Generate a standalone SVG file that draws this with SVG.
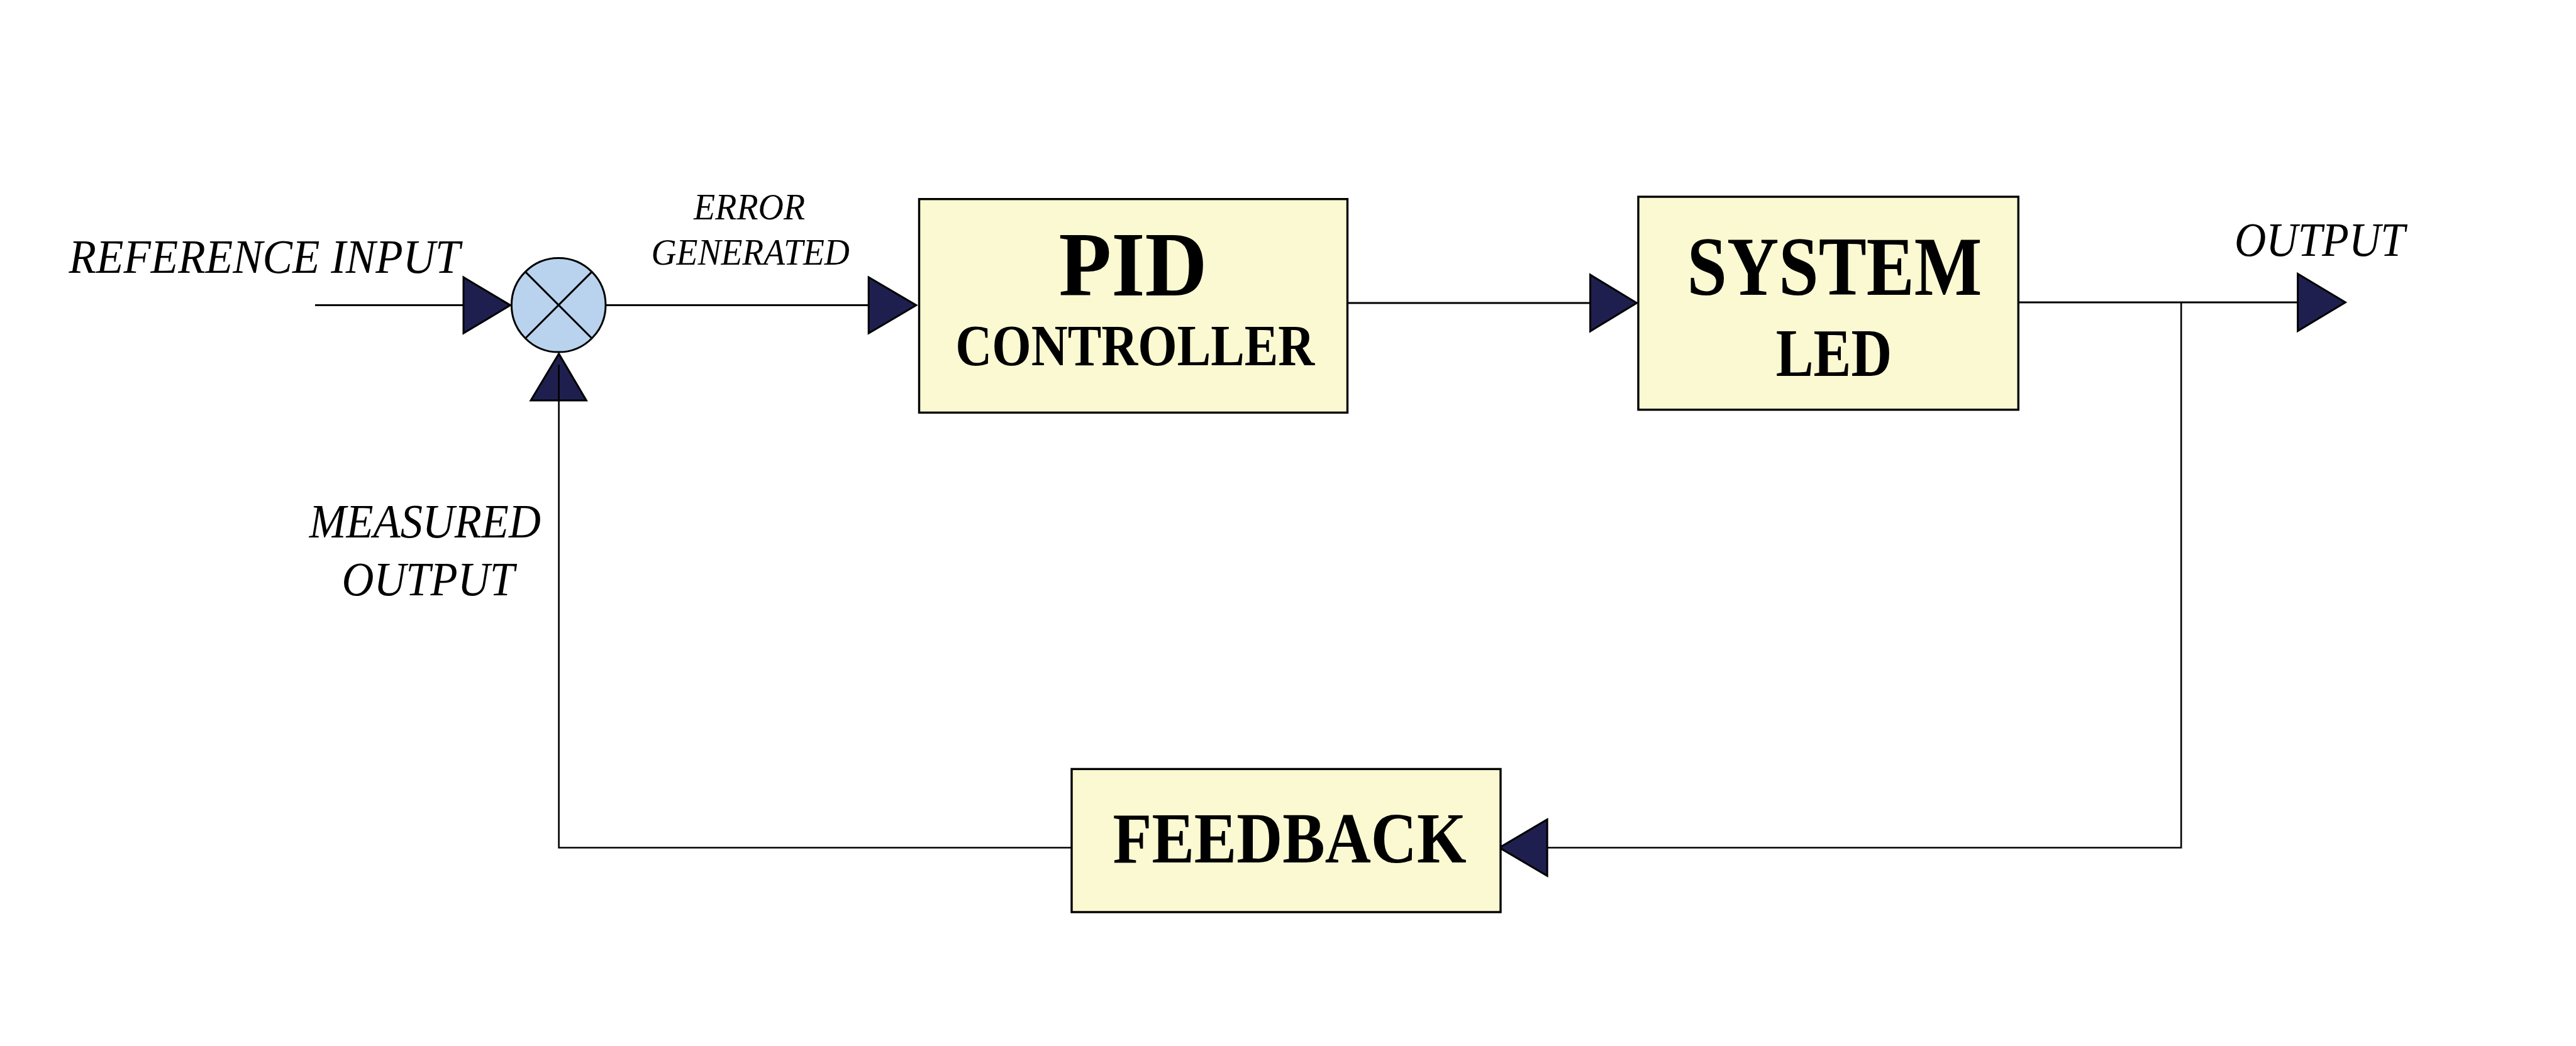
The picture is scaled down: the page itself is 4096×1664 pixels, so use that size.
<svg xmlns="http://www.w3.org/2000/svg" width="4096" height="1664" viewBox="0 0 4096 1664">
<style>
.box{fill:#FAF9D2;stroke:#000;stroke-width:3.4}
.line{fill:none;stroke:#000;stroke-width:3}
.thin{fill:none;stroke:#000;stroke-width:2.6}
.arrow{fill:#1F1F4F;stroke:#000;stroke-width:3;stroke-linejoin:miter}
.sum{fill:#B9D3EE;stroke:#000;stroke-width:3}
.bold{font-family:"Liberation Serif","Times New Roman",serif;font-weight:bold;fill:#000;text-anchor:middle}
.ital{font-family:"Liberation Serif","Times New Roman",serif;font-style:italic;fill:#000;text-anchor:middle}
</style>
<rect width="4096" height="1664" fill="#fff"/>
<g id="connectors">
  <line class="line" x1="501" y1="485.6" x2="740" y2="485.6"/>
  <line class="line" x1="963" y1="485.6" x2="1385" y2="485.6"/>
  <line class="line" x1="2142.6" y1="482" x2="2532" y2="482"/>
  <line class="line" x1="3209.3" y1="481" x2="3657" y2="481"/>
  <polyline class="thin" points="3468.2,481 3468.2,1348.5 2458,1348.5"/>
  <polyline class="thin" points="1704,1348.5 888.6,1348.5 888.6,580"/>
  <polygon id="arrow-in" class="arrow" points="737,441 811.5,485.6 737,530.2"/>
  <polygon id="arrow-err" class="arrow" points="1381.2,441 1456.9,485.6 1381.2,530.2"/>
  <polygon id="arrow-sys" class="arrow" points="2528.6,437 2602.5,482 2528.6,527"/>
  <polygon id="arrow-out" class="arrow" points="3653.6,435.5 3729.4,481 3653.6,526.5"/>
  <polygon id="arrow-fb" class="arrow" points="2460.2,1303.6 2384,1348.5 2460.2,1393.4"/>
  <polygon id="arrow-meas" class="arrow" points="844,637 888.6,562.7 932.3,637"/>
  <line class="thin" x1="888.6" y1="580" x2="888.6" y2="637"/>
</g>
<g id="summing-junction">
  <circle class="sum" cx="888.2" cy="485.3" r="74.8"/>
  <line class="line" x1="835.3" y1="432.4" x2="941.1" y2="538.2"/>
  <line class="line" x1="941.1" y1="432.4" x2="835.3" y2="538.2"/>
</g>
<g id="pid-controller">
  <rect class="box" x="1461.5" y="316.7" width="681" height="339.7"/>
  <text class="bold" x="1801.6" y="470" font-size="147" textLength="236" lengthAdjust="spacingAndGlyphs">PID</text>
  <text class="bold" x="1804.8" y="581" font-size="93" textLength="571" lengthAdjust="spacingAndGlyphs">CONTROLLER</text>
</g>
<g id="system-led">
  <rect class="box" x="2605" y="313" width="604.3" height="338.8"/>
  <text class="bold" x="2917" y="469" font-size="133" textLength="469" lengthAdjust="spacingAndGlyphs">SYSTEM</text>
  <text class="bold" x="2916" y="597.6" font-size="108" textLength="184.5" lengthAdjust="spacingAndGlyphs">LED</text>
</g>
<g id="feedback">
  <rect class="box" x="1704" y="1223.4" width="682" height="227.6"/>
  <text class="bold" x="2050.6" y="1372.4" font-size="115" textLength="562" lengthAdjust="spacingAndGlyphs">FEEDBACK</text>
</g>
<g id="labels">
  <text class="ital" x="420.6" y="434.2" font-size="76" textLength="622" lengthAdjust="spacingAndGlyphs">REFERENCE INPUT</text>
  <text class="ital" x="1191.6" y="348.8" font-size="60" textLength="177" lengthAdjust="spacingAndGlyphs">ERROR</text>
  <text class="ital" x="1193.2" y="421.4" font-size="60" textLength="315.5" lengthAdjust="spacingAndGlyphs">GENERATED</text>
  <text class="ital" x="3688.5" y="406.7" font-size="77" textLength="271" lengthAdjust="spacingAndGlyphs">OUTPUT</text>
  <text class="ital" x="675.8" y="854.7" font-size="76" textLength="368" lengthAdjust="spacingAndGlyphs">MEASURED</text>
  <text class="ital" x="680.7" y="946.5" font-size="76" textLength="274.5" lengthAdjust="spacingAndGlyphs">OUTPUT</text>
</g>
</svg>
